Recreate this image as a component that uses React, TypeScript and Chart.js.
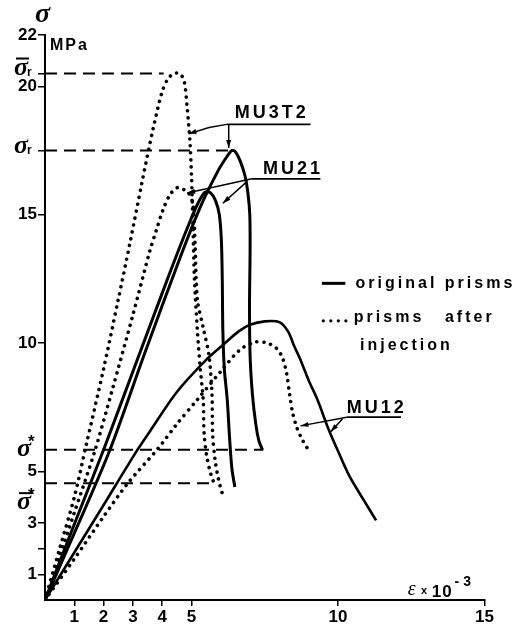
import React, { useEffect, useRef } from "react";
import { Chart, registerables } from "chart.js";

Chart.register(...registerables);

// ---- axis ticks ----
const xTickValues = [1, 2, 3, 4, 5, 10, 15];
const yTickValues = [1, 2, 3, 5, 10, 15, 17.5, 20, 20.5, 22];
const yTickLabels = ["1", "", "3", "5", "10", "15", "", "20", "", "22"];

// ---- original prisms (solid) ----
const mu3t2OrigEps = [0, 1.0, 2.2, 3.4, 4.6, 5.3, 5.9, 6.2, 6.38, 6.5, 6.66, 6.83, 6.93, 6.99, 7.0, 6.98, 7.0, 7.08, 7.2, 7.3, 7.42];
const mu3t2OrigSigma = [0, 2.6, 5.8, 9.6, 13.3, 15.3, 16.7, 17.25, 17.5, 17.45, 17.1, 16.5, 15.8, 15.0, 13.6, 11.5, 9.5, 8.0, 6.8, 6.2, 5.85];

const mu21OrigEps = [0, 1.0, 2.0, 3.0, 4.0, 4.5, 4.9, 5.2, 5.46, 5.65, 5.82, 5.95, 6.02, 6.05, 6.07, 6.12, 6.22, 6.3, 6.38, 6.48];
const mu21OrigSigma = [0, 2.95, 5.85, 8.9, 11.95, 13.45, 14.6, 15.4, 15.88, 15.85, 15.55, 15.0, 14.0, 12.5, 10.5, 9.0, 7.8, 6.3, 5.1, 4.4];

const mu12OrigEps = [0, 1.0, 2.0, 3.1, 3.6, 4.5, 5.5, 6.14, 6.6, 7.0, 7.5, 8.0, 8.3, 8.5, 8.7, 9.0, 9.3, 9.66, 10.0, 10.4, 10.9, 11.3];
const mu12OrigSigma = [0, 1.85, 3.7, 5.75, 6.6, 8.1, 9.35, 10.0, 10.45, 10.72, 10.85, 10.82, 10.45, 9.9, 9.4, 8.55, 7.8, 6.7, 5.8, 4.8, 3.85, 3.1];

// ---- prisms after injection (dotted) ----
const mu3t2InjEps = [0, 0.5, 1.0, 1.4, 2.0, 2.5, 2.9, 3.3, 3.7, 4.0, 4.2, 4.4, 4.6, 4.75, 4.85, 4.95, 5.0, 5.05, 5.1, 5.2, 5.3, 5.4, 5.43, 5.52, 5.66, 5.82];
const mu3t2InjSigma = [0, 2.0, 4.0, 6.0, 9.0, 11.7, 13.9, 16.2, 18.4, 19.8, 20.3, 20.5, 20.5, 20.2, 19.2, 17.8, 16.5, 14.5, 12.5, 10.5, 9.0, 7.8, 6.5, 5.6, 4.9, 4.4];

const mu21InjEps = [0, 0.5, 1.0, 1.7, 2.3, 3.0, 3.58, 3.8, 4.03, 4.25, 4.5, 4.7, 4.9, 5.05, 5.12, 5.2, 5.4, 5.6, 5.7, 5.72, 5.8, 5.92, 6.05];
const mu21InjSigma = [0, 1.7, 3.4, 5.8, 8.2, 11.1, 13.6, 14.4, 15.2, 15.75, 16.05, 16.0, 15.85, 15.4, 13.9, 11.7, 10.6, 9.5, 8.0, 6.5, 5.5, 4.7, 4.15];

const mu12InjEps = [0, 1.0, 2.0, 2.83, 3.86, 4.5, 5.2, 6.0, 6.66, 7.2, 7.6, 7.9, 8.1, 8.25, 8.35, 8.45, 8.6, 8.8, 9.04];
const mu12InjSigma = [0, 1.6, 3.25, 4.55, 5.9, 6.85, 7.8, 8.9, 9.75, 10.05, 10.0, 9.8, 9.45, 8.8, 8.0, 7.3, 6.7, 6.2, 5.75];

// ---- characteristic stress levels (dashed) ----
const refLevels = [20.5, 17.5, 5.85, 4.55];
const refEnds = [4.05, 6.32, 7.45, 5.75];

const toPoints = (xs: number[], ys: number[]) => xs.map((x, i) => ({ x, y: ys[i] }));

const FONT = '"Liberation Sans", Arial, sans-serif';
const SERIF = '"Liberation Serif", "DejaVu Serif", serif';

function setSpacing(ctx: any, s: string) {
  try { ctx.letterSpacing = s; } catch (e) { /* ignore */ }
}

const annotationPlugin = {
  id: "annotations",
  afterDraw(chart: any) {
    const ctx = chart.ctx as CanvasRenderingContext2D;
    const xs = chart.scales.x;
    const ys = chart.scales.y;
    const X = (v: number) => xs.getPixelForValue(v);
    const Y = (v: number) => ys.getPixelForValue(v);
    const left = chart.chartArea.left;
    ctx.save();
    ctx.fillStyle = "#000";
    ctx.strokeStyle = "#000";
    ctx.textBaseline = "alphabetic";
    ctx.textAlign = "left";

    const line = (x1: number, y1: number, x2: number, y2: number, w = 1.5) => {
      ctx.lineWidth = w;
      ctx.beginPath();
      ctx.moveTo(x1, y1);
      ctx.lineTo(x2, y2);
      ctx.stroke();
    };
    const arrow = (x1: number, y1: number, x2: number, y2: number) => {
      line(x1, y1, x2, y2, 1.5);
      const a = Math.atan2(y2 - y1, x2 - x1);
      const L = 8, W = 2.5;
      ctx.beginPath();
      ctx.moveTo(x2, y2);
      ctx.lineTo(x2 - L * Math.cos(a) + W * Math.sin(a), y2 - L * Math.sin(a) - W * Math.cos(a));
      ctx.lineTo(x2 - L * Math.cos(a) - W * Math.sin(a), y2 - L * Math.sin(a) + W * Math.cos(a));
      ctx.closePath();
      ctx.fill();
    };
    const sigma = (x: number, baseline: number, opts: { bar?: boolean; sub?: string; star?: boolean; size?: number }) => {
      const size = opts.size || 26;
      ctx.font = `italic bold ${size}px ${SERIF}`;
      setSpacing(ctx, "0px");
      ctx.fillText("σ", x, baseline);
      const w = ctx.measureText("σ").width;
      if (opts.bar) line(x + 2, baseline - 16, x + w + 1, baseline - 16, 2);
      if (opts.sub) {
        ctx.font = `bold 12px ${FONT}`;
        ctx.fillText(opts.sub, x + w - 1, baseline + 1);
      }
      if (opts.star) {
        ctx.font = `bold 17px ${FONT}`;
        ctx.fillText("*", x + w - 3, baseline - 9);
      }
    };

    // axis title
    sigma(left - 10, 22, { size: 28 });
    ctx.font = `bold 16px ${FONT}`;
    setSpacing(ctx, "2px");
    ctx.fillText("MPa", left + 5, 50);
    setSpacing(ctx, "0px");

    // characteristic level symbols on the stress axis
    sigma(14, Y(refLevels[0]) + 1, { bar: true, sub: "r" });
    sigma(14, Y(refLevels[1]) + 2, { sub: "r" });
    sigma(17, Y(refLevels[2]) + 6, { star: true });
    sigma(17, Y(refLevels[3]) + 26, { bar: true, star: true });

    // strain axis title
    ctx.font = `italic 20px ${SERIF}`;
    ctx.fillText("ε", X(12.38), 595);
    ctx.font = `bold 11px ${FONT}`;
    ctx.fillText("x", X(12.83), 594);
    ctx.font = `bold 17px ${FONT}`;
    setSpacing(ctx, "1px");
    ctx.fillText("10", X(13.2), 597);
    ctx.font = `bold 14px ${FONT}`;
    setSpacing(ctx, "4px");
    ctx.fillText("-3", X(13.98), 586);
    setSpacing(ctx, "0px");

    // curve labels
    ctx.font = `bold 18px ${FONT}`;
    setSpacing(ctx, "3px");
    ctx.textBaseline = "middle";
    ctx.fillText("MU3T2", X(6.48), Y(18.95));
    ctx.fillText("MU21", X(7.44), Y(16.8));
    ctx.fillText("MU12", X(10.3), Y(7.47));
    setSpacing(ctx, "0px");

    // MU3T2 leaders
    line(X(6.2), Y(18.52), X(9.06), Y(18.52), 1.8);
    line(X(6.2), Y(18.52), X(5.6), Y(18.4), 1.5);
    arrow(X(5.6), Y(18.4), X(4.9), Y(18.15));
    arrow(X(6.27), Y(18.52), X(6.27), Y(17.6));
    // MU21 leaders
    line(X(7.06), Y(16.4), X(9.4), Y(16.4), 1.8);
    arrow(X(7.06), Y(16.4), X(4.85), Y(15.85));
    arrow(X(6.9), Y(16.3), X(6.07), Y(15.45));
    // MU12 leaders
    line(X(10.3), Y(7.12), X(12.15), Y(7.12), 1.8);
    arrow(X(10.3), Y(7.12), X(8.72), Y(6.78));
    arrow(X(10.15), Y(7.05), X(9.75), Y(6.55));

    // legend
    ctx.textBaseline = "middle";
    line(X(9.45), Y(12.33), X(10.25), Y(12.33), 3);
    for (let i = 0; i < 4; i++) {
      ctx.beginPath();
      ctx.arc(X(9.5) + i * 7.5, Y(10.95) + 2, 1.6, 0, Math.PI * 2);
      ctx.fill();
    }
    ctx.font = `bold 16px ${FONT}`;
    setSpacing(ctx, "3px");
    ctx.fillText("original prisms", X(10.6), Y(12.33));
    ctx.fillText("prisms", X(10.54), Y(11.0));
    ctx.fillText("after", X(13.65), Y(11.0));
    ctx.fillText("injection", X(10.75), Y(9.92));
    setSpacing(ctx, "0px");

    ctx.restore();
  },
};

export default function App() {
  const ref = useRef<HTMLCanvasElement>(null);

  useEffect(() => {
    if (!ref.current) return;
    const solid = (data: any) => ({
      data,
      showLine: true,
      borderColor: "#000",
      borderWidth: 3,
      pointRadius: 0,
      tension: 0.3,
      fill: false,
    });
    const dotted = (data: any) => ({
      data,
      showLine: true,
      borderColor: "#000",
      borderWidth: 3.6,
      borderDash: [0.01, 7],
      borderCapStyle: "round",
      pointRadius: 0,
      tension: 0.3,
      fill: false,
    });
    const dashed = (level: number, end: number) => ({
      data: [{ x: 0, y: level }, { x: end, y: level }],
      showLine: true,
      borderColor: "#000",
      borderWidth: 2,
      borderDash: [12, 7],
      pointRadius: 0,
      tension: 0,
      fill: false,
    });

    const chart = new Chart(ref.current, {
      type: "scatter",
      data: {
        datasets: [
          ...refLevels.map((l, i) => dashed(l, refEnds[i])),
          solid(toPoints(mu3t2OrigEps, mu3t2OrigSigma)),
          solid(toPoints(mu21OrigEps, mu21OrigSigma)),
          { ...solid(toPoints(mu12OrigEps, mu12OrigSigma)), borderWidth: 2.6 },
          dotted(toPoints(mu3t2InjEps, mu3t2InjSigma)),
          dotted(toPoints(mu21InjEps, mu21InjSigma)),
          dotted(toPoints(mu12InjEps, mu12InjSigma)),
        ] as any,
      },
      options: {
        animation: false,
        responsive: false,
        devicePixelRatio: 1,
        layout: { padding: { top: 35, right: 37.5, left: 0, bottom: 0 } },
        plugins: { legend: { display: false }, tooltip: { enabled: false } },
        scales: {
          x: {
            type: "linear",
            min: 0,
            max: 15,
            afterBuildTicks: (s: any) => { s.ticks = xTickValues.map((v) => ({ value: v })); },
            afterFit: (s: any) => { s.height = 26; },
            ticks: {
              color: "#000",
              font: { family: FONT, weight: "bold", size: 17 },
              padding: 1,
              maxRotation: 0,
              autoSkip: false,
              callback: (v: any) => String(v),
            },
            grid: { drawOnChartArea: false, drawTicks: true, tickLength: 6, color: "#000", lineWidth: 1.5 },
            border: { color: "#000", width: 2 },
          },
          y: {
            type: "linear",
            min: 0,
            max: 22,
            afterBuildTicks: (s: any) => { s.ticks = yTickValues.map((v) => ({ value: v })); },
            afterFit: (s: any) => { s.width = 45; },
            ticks: {
              color: "#000",
              font: { family: FONT, weight: "bold", size: 17 },
              padding: 1,
              autoSkip: false,
              callback: (v: any) => {
                const i = yTickValues.indexOf(Number(v));
                return i >= 0 ? yTickLabels[i] : "";
              },
            },
            grid: { drawOnChartArea: false, drawTicks: true, tickLength: 7, color: "#000", lineWidth: 1.5 },
            border: { color: "#000", width: 2 },
          },
        },
      } as any,
      plugins: [annotationPlugin],
    });
    return () => chart.destroy();
  }, []);

  return (
    <div style={{ position: "fixed", left: 0, top: 0, width: 522, height: 626, background: "#fff" }}>
      <canvas ref={ref} width={522} height={626} style={{ display: "block", width: 522, height: 626 }} />
    </div>
  );
}
